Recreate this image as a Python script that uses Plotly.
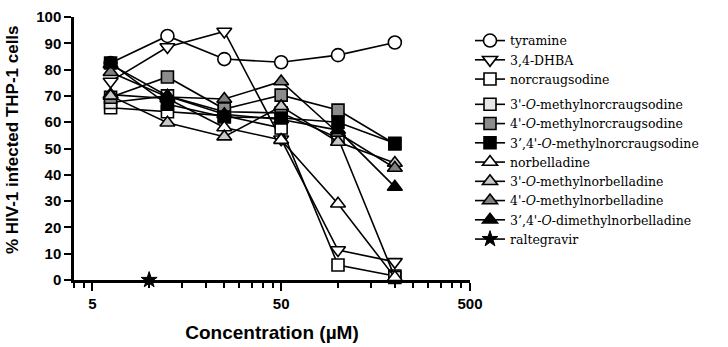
import plotly.graph_objects as go
import math

conc = [6.25, 12.5, 25, 50, 100, 200]

names = [
    "tyramine",
    "3,4-DHBA",
    "norcraugsodine",
    "3'-<i>O</i>-methylnorcraugsodine",
    "4'-<i>O</i>-methylnorcraugsodine",
    "3’,4'-<i>O</i>-methylnorcraugsodine",
    "norbelladine",
    "3'-<i>O</i>-methylnorbelladine",
    "4'-<i>O</i>-methylnorbelladine",
    "3’,4'-<i>O</i>-dimethylnorbelladine",
]

tyramine = [82.5, 92.8, 84.0, 82.8, 85.5, 90.3]
dhba = [75.5, 88.6, 94.5, 53.5, 11.4, 6.9]
norcraugsodine = [65.5, 64.0, 62.5, 57.8, 5.7, 1.5]
m3_norcraugsodine = [67.5, 70.0, 64.0, 63.5, 54.0, 1.0]
m4_norcraugsodine = [69.5, 77.2, 65.0, 70.3, 64.6, 51.7]
m34_norcraugsodine = [82.5, 66.8, 62.0, 61.6, 60.0, 52.0]
norbelladine = [70.5, 69.0, 58.0, 53.2, 29.0, 1.0]
m3_norbelladine = [70.0, 59.8, 54.5, 66.0, 52.5, 44.5]
m4_norbelladine = [79.0, 69.6, 68.8, 75.5, 55.9, 42.6]
m34_norbelladine = [82.0, 70.0, 63.0, 61.0, 57.0, 35.4]

ralt_conc = [10]
raltegravir = [0]

series = [tyramine, dhba, norcraugsodine, m3_norcraugsodine, m4_norcraugsodine,
          m34_norcraugsodine, norbelladine, m3_norbelladine, m4_norbelladine,
          m34_norbelladine]

symbols = ["circle", "triangle-down", "square", "square", "square", "square",
           "triangle-up", "triangle-up", "triangle-up", "triangle-up"]
fills = ["white", "white", "white", "#e6e6e6", "#8c8c8c", "black",
         "white", "#c8c8c8", "#808080", "black"]
sizes = [13, 13, 12, 12, 12, 12, 13, 13, 13, 13]

fig = go.Figure()
for i, (nm, vals) in enumerate(zip(names, series)):
    fig.add_trace(go.Scatter(
        x=conc, y=vals, name=nm, mode="lines+markers",
        line=dict(color="black", width=1.6),
        marker=dict(symbol=symbols[i], size=sizes[i], color=fills[i],
                    line=dict(color="black", width=1.6)),
        cliponaxis=False,
        legendgroup="a" if i < 3 else "b",
    ))

fig.add_trace(go.Scatter(
    x=ralt_conc, y=raltegravir, name="raltegravir", mode="lines+markers",
    line=dict(color="black", width=1.6),
    marker=dict(symbol="star", size=12, color="black",
                line=dict(color="black", width=1)),
    cliponaxis=False, legendgroup="b",
))

minor_vals = [4, 4.5] + list(range(10, 50, 5)) + list(range(100, 500, 50))

fig.update_layout(
    width=728, height=347,
    margin=dict(l=74, r=258, t=17, b=67),
    plot_bgcolor="white", paper_bgcolor="white",
    showlegend=True,
    legend=dict(x=1.0, xanchor="left", y=0.966, yanchor="top",
                font=dict(family="DejaVu Serif", size=12.5, color="black"),
                tracegroupgap=6, itemsizing="trace",
                bgcolor="rgba(0,0,0,0)"),
    xaxis=dict(
        type="log", range=[math.log10(4), math.log10(500)],
        tickvals=[5, 50, 500], ticktext=["5", "50", "500"],
        ticks="outside", ticklen=8, tickwidth=2, tickcolor="black",
        showline=True, linecolor="black", linewidth=2.5,
        showgrid=False, zeroline=False, automargin=False,
        tickfont=dict(family="Liberation Sans", size=15, color="black", weight="bold"),
        minor=dict(tickvals=minor_vals, ticks="outside", ticklen=5,
                   tickwidth=2, tickcolor="black", showgrid=False),
        title=dict(text="Concentration (µM)",
                   font=dict(family="Liberation Sans", size=19, color="black", weight="bold")),
    ),
    yaxis=dict(
        range=[0, 100], tickvals=list(range(0, 101, 10)),
        ticks="outside", ticklen=7, tickwidth=2, tickcolor="black",
        showline=True, linecolor="black", linewidth=2.5,
        showgrid=False, zeroline=False, automargin=False,
        tickfont=dict(family="Liberation Sans", size=15, color="black", weight="bold"),
    ),
    annotations=[dict(
        text="% HIV-1 infected THP-1 cells", textangle=-90,
        xref="paper", yref="paper", x=-62 / 396, y=0.532,
        xanchor="center", yanchor="middle", showarrow=False,
        font=dict(family="Liberation Sans", size=17, color="black", weight="bold"),
    )],
)

fig.write_html(
    "out.html",
    config={"displayModeBar": False},
    post_script="document.body.style.margin='0';document.body.style.overflow='hidden';",
)
